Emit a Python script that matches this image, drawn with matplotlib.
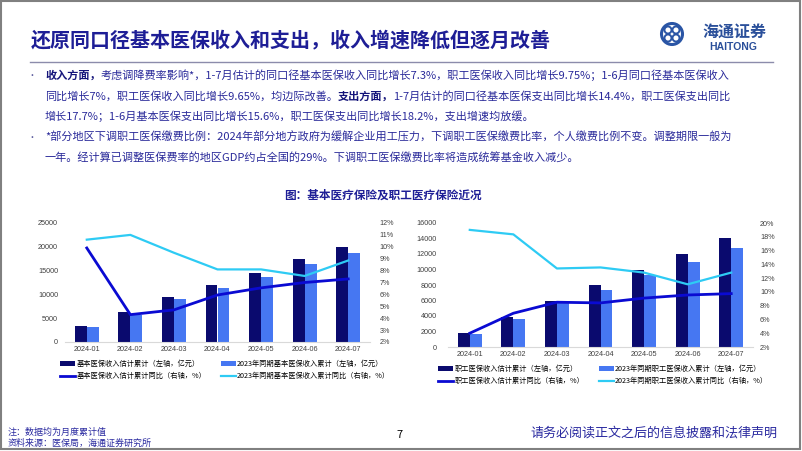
import numpy as np
import matplotlib
matplotlib.use('Agg')
import matplotlib.pyplot as plt
from matplotlib.patches import Rectangle, Circle, Arc
from matplotlib.lines import Line2D
from matplotlib.ticker import PercentFormatter

plt.rcParams['font.family'] = ['Noto Sans CJK SC', 'DejaVu Sans']

# ---- data ----
months = ['2024-01', '2024-02', '2024-03', '2024-04', '2024-05', '2024-06', '2024-07']

basic_2024 = [3400, 6200, 9450, 12050, 14550, 17400, 19900]
basic_2023 = [3100, 5700, 9100, 11400, 13650, 16300, 18600]
basic_yoy_2024 = [9.9, 4.3, 4.7, 5.95, 6.55, 7.0, 7.3]
basic_yoy_2023 = [10.6, 11.0, 9.5, 8.1, 8.1, 7.55, 8.85]

emp_2024 = [1800, 3850, 6000, 7950, 10000, 12050, 14050]
emp_2023 = [1700, 3600, 5700, 7400, 9350, 11000, 12800]
emp_yoy_2024 = [4.0, 6.9, 8.5, 8.4, 9.1, 9.55, 9.75]
emp_yoy_2023 = [19.0, 18.35, 13.4, 13.55, 12.8, 11.1, 12.8]

basic_labels = ['基本医保收入估计累计（左轴，亿元）', '2023年同期基本医保收入累计（左轴，亿元）',
                '基本医保收入估计累计同比（右轴，%）', '2023年同期基本医保收入累计同比（右轴，%）']
emp_labels = ['职工医保收入估计累计（左轴，亿元）', '2023年同期职工医保收入累计（左轴，亿元）',
              '职工医保收入估计累计同比（右轴，%）', '2023年同期职工医保收入累计同比（右轴，%）']

title = '还原同口径基本医保收入和支出，收入增速降低但逐月改善'
chart_title = '图：基本医疗保险及职工医疗保险近况'
bullet_rows = [
    [('收入方面，', True), ('考虑调降费率影响*，1-7月估计的同口径基本医保收入同比增长7.3%，职工医保收入同比增长9.75%；1-6月同口径基本医保收入', False)],
    [('同比增长7%，职工医保收入同比增长9.65%，均边际改善。', False), ('支出方面，', True),
     ('1-7月估计的同口径基本医保支出同比增长14.4%，职工医保支出同比', False)],
    [('增长17.7%；1-6月基本医保支出同比增长15.6%，职工医保支出同比增长18.2%，支出增速均放缓。', False)],
    [('*部分地区下调职工医保缴费比例：2024年部分地方政府为缓解企业用工压力，下调职工医保缴费比率，个人缴费比例不变。调整期限一般为', False)],
    [('一年。经计算已调整医保费率的地区GDP约占全国的29%。下调职工医保缴费比率将造成统筹基金收入减少。', False)],
]
note_lines = ['注：数据均为月度累计值', '资料来源：医保局，海通证券研究所']
disclaimer = '请务必阅读正文之后的信息披露和法律声明'

DARK = '#0a0a6e'
LIGHT = '#4677f2'
LINE1 = '#0a0ad2'
LINE2 = '#2ecbf4'
NAVY = '#1e1e96'
TICK = '#404040'

W, H = 802, 451
fig = plt.figure(figsize=(W / 100, H / 100), dpi=100)

# overlay in pixel coordinates for the slide furniture
pg = fig.add_axes([0, 0, 1, 1])
pg.set_xlim(0, W)
pg.set_ylim(H, 0)
pg.axis('off')

pg.add_patch(Rectangle((1, 1), W - 3, H - 3, fill=False, ec='#808080', lw=1.5))
pg.text(31, 40, title, fontsize=14.4, color=NAVY, weight='bold', va='center')
pg.add_line(Line2D([30, 773], [62, 62], color='#8c8cab', lw=1))

# logo
pg.add_patch(Circle((672, 34), 10.5, fill=False, ec='#2a55a5', lw=2.2))
for cx, cy in [(668, 30), (676, 30), (668, 38), (676, 38)]:
    pg.add_patch(Arc((cx, cy), 7, 7, color='#2a55a5', lw=1.4))
pg.text(734, 32, '海通证券', fontsize=11.5, color='#2a4f9a', weight='bold', style='italic',
        ha='center', va='center')
pg.text(733, 47, 'HAITONG', fontsize=7.5, color='#2a4f9a', weight='bold',
        family='Liberation Sans', ha='center', va='center')

# bullet text, drawn segment by segment so bold parts sit inline
renderer = fig.canvas.get_renderer()
row_y = [75, 96, 116, 137, 157]
for i, (y, row) in enumerate(zip(row_y, bullet_rows)):
    if i in (0, 3):
        pg.text(32, y, '•', fontsize=6.5, color='#555599', va='center', ha='center')
    x = 45
    for seg, bold in row:
        t = pg.text(x, y, seg, fontsize=8.0, color='#14147a' if bold else '#2a2a9a',
                    weight='bold' if bold else 'normal', va='center')
        x += t.get_window_extent(renderer).width

pg.text(383, 195, chart_title, fontsize=8.4, color=NAVY, weight='bold', ha='center', va='center')

pg.text(8, 432, note_lines[0], fontsize=6.5, color='#2a2aa0', va='center')
pg.text(8, 443, note_lines[1], fontsize=6.5, color='#2a2aa0', va='center')
pg.text(400, 435, '7', fontsize=8, color='black', ha='center', va='center')
pg.text(530, 433, disclaimer, fontsize=9.4, color='#2a2aa0', va='center')


def draw_chart(rect, bars_a, bars_b, yoy_a, yoy_b, ymax, ystep, rmin, rmax, rstep,
               labels, lpad, rpad, leg_xy):
    ax = fig.add_axes(rect)
    x = np.arange(len(months))
    w = 0.275
    b1 = ax.bar(x - w / 2, bars_a, w, color=DARK)
    b2 = ax.bar(x + w / 2, bars_b, w, color=LIGHT)
    ax.set_xlim(-0.5, len(months) - 0.5)
    ax.set_ylim(0, ymax)
    ax.set_yticks(np.arange(0, ymax + 1, ystep))
    ax.set_xticks(x)
    ax.set_xticklabels(months)
    for s in ['top', 'right', 'left']:
        ax.spines[s].set_visible(False)
    ax.spines['bottom'].set_color('#d9d9d9')
    ax.tick_params(length=0, labelsize=5.2, colors=TICK)
    ax.tick_params(axis='y', pad=lpad)
    ax.tick_params(axis='x', pad=3)

    ax2 = ax.twinx()
    l1, = ax2.plot(x, yoy_a, color=LINE1, lw=2)
    l2, = ax2.plot(x, yoy_b, color=LINE2, lw=1.6)
    ax2.set_ylim(rmin, rmax)
    ax2.set_yticks(np.arange(rmin, rmax + 0.01, rstep))
    ax2.yaxis.set_major_formatter(PercentFormatter(decimals=0))
    for s in ax2.spines.values():
        s.set_visible(False)
    ax2.tick_params(length=0, labelsize=5.2, colors=TICK, pad=rpad)
    for t in ax.get_xticklabels() + ax.get_yticklabels() + ax2.get_yticklabels():
        t.set_family('Liberation Sans')

    ax.legend([b1, l1, b2, l2], [labels[0], labels[2], labels[1], labels[3]],
              ncol=2, frameon=False, fontsize=5.2, loc='upper left',
              bbox_to_anchor=(leg_xy[0] / W, 1 - leg_xy[1] / H), bbox_transform=fig.transFigure,
              borderpad=0, borderaxespad=0, handlelength=2.1, handleheight=0.7,
              handletextpad=0.15, columnspacing=2.0, labelspacing=0.6)
    return ax


draw_chart([65 / W, 1 - 342 / H, 305 / W, 119 / H], basic_2024, basic_2023,
           basic_yoy_2024, basic_yoy_2023, 25000, 5000, 2, 12, 1,
           basic_labels, 5, 7, (60, 360))
draw_chart([448 / W, 1 - 347 / H, 305 / W, 124 / H], emp_2024, emp_2023,
           emp_yoy_2024, emp_yoy_2023, 16000, 2000, 2, 20, 2,
           emp_labels, 8, 5, (438, 365))

fig.savefig('out.png', dpi=100)
